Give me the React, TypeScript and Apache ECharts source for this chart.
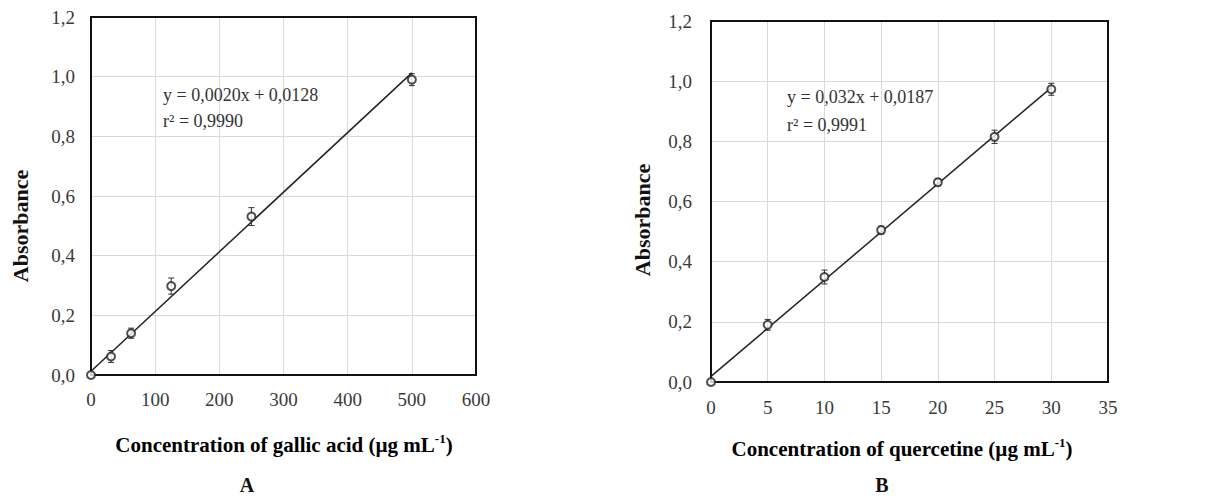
import React, { useEffect, useRef } from "react";
import * as echarts from "echarts";

// Panel A: gallic acid
const gallicConc = [0, 31.25, 62.5, 125, 250, 500];
const gallicAbs = [0, 0.062, 0.14, 0.298, 0.531, 0.99];
const gallicErr = [0, 0.02, 0.017, 0.027, 0.03, 0.02];
const gallicTrend = [
  [0, 0.0128],
  [500, 1.0128],
];
const gallicEq = ["y = 0,0020x + 0,0128", "r² = 0,9990"];

// Panel B: quercetine
const quercConc = [0, 5, 10, 15, 20, 25, 30];
const quercAbs = [0, 0.19, 0.349, 0.505, 0.664, 0.815, 0.973];
const quercErr = [0, 0.018, 0.023, 0.013, 0.012, 0.022, 0.02];
const quercTrend = [
  [0, 0.0187],
  [30, 0.9787],
];
const quercEq = ["y = 0,032x + 0,0187", "r² = 0,9991"];

const yTitle = "Absorbance";
const xTitleA = "Concentration of gallic acid (µg mL";
const xTitleB = "Concentration of quercetine (µg mL";
const panelLabels = ["A", "B"];

const FONT = "'Liberation Serif', 'Times New Roman', serif";
const INK = "#333";

export default function App() {
  const ref = useRef<HTMLDivElement>(null);
  useEffect(() => {
    const chart = echarts.init(ref.current!, null, { renderer: "svg" });
    const gA = { left: 91, top: 17, width: 385, height: 358 };
    const gB = { left: 711, top: 21, width: 397, height: 361 };

    const axisLabel = {
      fontFamily: FONT,
      fontSize: 19,
      color: "#3a3a3a",
    };
    const splitLine = { show: true, lineStyle: { color: "#d9d9d9", width: 1 } };

    const errRender = (params: any, api: any) => {
      const x = api.value(0);
      const y = api.value(1);
      const e = api.value(2);
      if (!e) return null;
      const t = api.coord([x, y + e]);
      const b = api.coord([x, y - e]);
      const cap = 3;
      const st = { stroke: "#333", lineWidth: 1 };
      return {
        type: "group",
        children: [
          { type: "line", shape: { x1: t[0], y1: t[1], x2: b[0], y2: b[1] }, style: st },
          { type: "line", shape: { x1: t[0] - cap, y1: t[1], x2: t[0] + cap, y2: t[1] }, style: st },
          { type: "line", shape: { x1: b[0] - cap, y1: b[1], x2: b[0] + cap, y2: b[1] }, style: st },
        ],
      };
    };

    const titleRich = {
      b: { fontFamily: FONT, fontSize: 21, fontWeight: "bold", color: "#111", lineHeight: 26 },
      s: { fontFamily: FONT, fontSize: 13, fontWeight: "bold", color: "#111", lineHeight: 26, verticalAlign: "top", padding: [0, 0, 10, 0] },
    };

    const eqText = (x: number, y: number, s: string) => ({
      type: "text",
      x,
      y,
      z: 20,
      style: {
        text: s,
        fontFamily: FONT,
        fontSize: 18,
        fill: INK,
        align: "left",
        verticalAlign: "middle",
      },
    });

    const frame = (g: any) => ({
      type: "rect",
      z: 5,
      shape: { x: g.left, y: g.top, width: g.width, height: g.height },
      style: { fill: "none", stroke: "#111", lineWidth: 2 },
      silent: true,
    });

    const yTitleEl = (x: number, y: number) => ({
      type: "text",
      x,
      y,
      rotation: Math.PI / 2,
      style: {
        text: yTitle,
        fontFamily: FONT,
        fontSize: 22,
        fontWeight: "bold",
        fill: "#111",
        align: "center",
        verticalAlign: "middle",
      },
    });

    const panelEl = (x: number, y: number, s: string) => ({
      type: "text",
      x,
      y,
      style: {
        text: s,
        fontFamily: FONT,
        fontSize: 20,
        fontWeight: "bold",
        fill: "#111",
        align: "center",
        verticalAlign: "middle",
      },
    });

    const yLabel = (margin: number) => ({
      ...axisLabel,
      margin,
      formatter: (v: number) => v.toFixed(1).replace(".", ","),
    });

    const option: any = {
      animation: false,
      backgroundColor: "#fff",
      grid: [
        { ...gA, containLabel: false },
        { ...gB, containLabel: false },
      ],
      xAxis: [
        {
          gridIndex: 0,
          type: "value",
          min: 0,
          max: 600,
          interval: 100,
          axisLine: { show: false },
          axisTick: { show: false },
          axisLabel: { ...axisLabel, margin: 15 },
          splitLine,
        },
        {
          gridIndex: 1,
          type: "value",
          min: 0,
          max: 35,
          interval: 5,
          axisLine: { show: false },
          axisTick: { show: false },
          axisLabel: { ...axisLabel, margin: 16 },
          splitLine,
        },
      ],
      yAxis: [
        {
          gridIndex: 0,
          type: "value",
          min: 0,
          max: 1.2,
          interval: 0.2,
          axisLine: { show: false },
          axisTick: { show: false },
          axisLabel: yLabel(16),
          splitLine,
        },
        {
          gridIndex: 1,
          type: "value",
          min: 0,
          max: 1.2,
          interval: 0.2,
          axisLine: { show: false },
          axisTick: { show: false },
          axisLabel: yLabel(19),
          splitLine,
        },
      ],
      series: [
        {
          type: "custom",
          xAxisIndex: 0,
          yAxisIndex: 0,
          z: 6,
          renderItem: errRender,
          data: gallicConc.map((c, i) => [c, gallicAbs[i], gallicErr[i]]),
        },
        {
          type: "line",
          xAxisIndex: 0,
          yAxisIndex: 0,
          z: 7,
          symbol: "none",
          lineStyle: { color: "#222", width: 1.5 },
          data: gallicTrend,
        },
        {
          type: "scatter",
          xAxisIndex: 0,
          yAxisIndex: 0,
          z: 8,
          symbol: "emptyCircle",
          symbolSize: 8,
          itemStyle: { color: "#222", borderColor: "#222", borderWidth: 1.3 },
          data: gallicConc.map((c, i) => [c, gallicAbs[i]]),
        },
        {
          type: "custom",
          xAxisIndex: 1,
          yAxisIndex: 1,
          z: 6,
          renderItem: errRender,
          data: quercConc.map((c, i) => [c, quercAbs[i], quercErr[i]]),
        },
        {
          type: "line",
          xAxisIndex: 1,
          yAxisIndex: 1,
          z: 7,
          symbol: "none",
          lineStyle: { color: "#222", width: 1.5 },
          data: quercTrend,
        },
        {
          type: "scatter",
          xAxisIndex: 1,
          yAxisIndex: 1,
          z: 8,
          symbol: "emptyCircle",
          symbolSize: 8,
          itemStyle: { color: "#222", borderColor: "#222", borderWidth: 1.3 },
          data: quercConc.map((c, i) => [c, quercAbs[i]]),
        },
      ],
      graphic: [
        frame(gA),
        frame(gB),
        eqText(163, 95, gallicEq[0]),
        eqText(163, 121, gallicEq[1]),
        eqText(787, 97, quercEq[0]),
        eqText(787, 125, quercEq[1]),
        yTitleEl(20, 226),
        yTitleEl(642, 220),
        {
          type: "text",
          x: 284,
          y: 445,
          style: {
            text: "{b|" + xTitleA + "}{s|-1}{b|)}",
            rich: titleRich,
            align: "center",
            verticalAlign: "middle",
          },
        },
        {
          type: "text",
          x: 902,
          y: 449,
          style: {
            text: "{b|" + xTitleB + "}{s|-1}{b|)}",
            rich: titleRich,
            align: "center",
            verticalAlign: "middle",
          },
        },
        panelEl(247, 485, panelLabels[0]),
        panelEl(882, 485, panelLabels[1]),
      ],
    };
    chart.setOption(option);
    return () => chart.dispose();
  }, []);
  return (
    <div
      ref={ref}
      style={{ position: "fixed", left: 0, top: 0, width: 1207, height: 497, background: "#fff" }}
    />
  );
}
